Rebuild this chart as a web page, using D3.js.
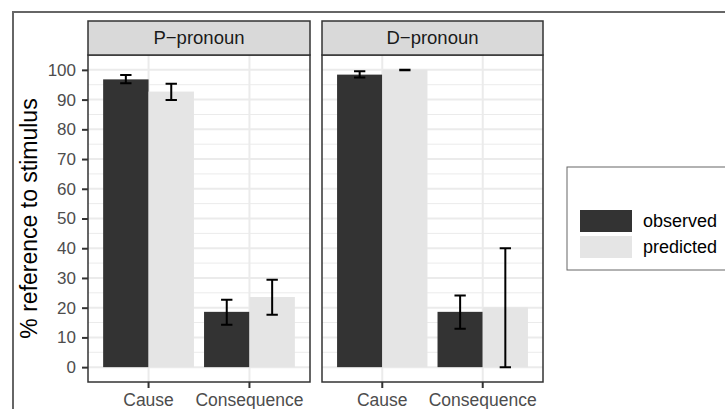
<!DOCTYPE html>
<html><head><meta charset="utf-8">
<script src="https://cdn.jsdelivr.net/npm/d3@7"></script>
<style>body{margin:0;background:#fff}svg{display:block}text{font-family:"Liberation Sans",Arial,sans-serif}</style>
</head><body>
<svg id="c" width="725" height="409"></svg>
<script>
const panels = ["P\u2212pronoun", "D\u2212pronoun"];
const categories = ["Cause", "Consequence"];
const series = ["observed", "predicted"];
const yTicks = [0,10,20,30,40,50,60,70,80,90,100];
// values[category] = [observed, predicted]
const meanP = [[96.8, 92.7], [18.6, 23.6]];
const lowP  = [[95.5, 89.9], [14.3, 17.6]];
const highP = [[98.3, 95.3], [22.7, 29.4]];
const meanD = [[98.4, 100.0], [18.6, 20.1]];
const lowD  = [[97.4, 99.9], [12.9, 0.0]];
const highD = [[99.5, 100.0], [24.1, 40.0]];
const colors = ["#333333", "#E5E5E5"];

(function(){
const svg = d3.select("#c");
svg.append("path").attr("d","M13,409V12H725").attr("fill","none").attr("stroke","#666").attr("stroke-width",2);

const pTop = 55, pBottom = 382, stripTop = 21;
const panelX = [[88,310],[322,543]];
const y = d3.scaleLinear().domain([-5,105]).range([pBottom, pTop]);
const data = [[meanP, lowP, highP],[meanD, lowD, highD]];
const FF = "'Liberation Sans',Arial,sans-serif";

panels.forEach((pn, pi) => {
  const [x0, x1] = panelX[pi];
  const x = d3.scaleBand().domain(categories).range([x0, x1]).paddingInner(0).paddingOuter(0.1);
  const xs = d3.scaleBand().domain(series).range([x.bandwidth()*0.05, x.bandwidth()*0.95]);
  const g = svg.append("g");
  g.append("rect").attr("x",x0).attr("y",pTop).attr("width",x1-x0).attr("height",pBottom-pTop).attr("fill","#fff");
  const minors = d3.range(5, 100, 10);
  g.selectAll(".mn").data(minors).join("line").attr("x1",x0).attr("x2",x1)
    .attr("y1",d=>y(d)).attr("y2",d=>y(d)).attr("stroke","#EBEBEB").attr("stroke-width",1);
  g.selectAll(".mj").data(yTicks).join("line").attr("x1",x0).attr("x2",x1)
    .attr("y1",d=>y(d)).attr("y2",d=>y(d)).attr("stroke","#EBEBEB").attr("stroke-width",2);
  g.selectAll(".vx").data(categories).join("line").attr("y1",pTop).attr("y2",pBottom)
    .attr("x1",d=>x(d)+x.bandwidth()/2).attr("x2",d=>x(d)+x.bandwidth()/2).attr("stroke","#EBEBEB").attr("stroke-width",2);
  const [mean, low, high] = data[pi];
  categories.forEach((c, ci) => {
    series.forEach((s, si) => {
      const bx = x(c) + xs(s);
      const v = mean[ci][si];
      g.append("rect").attr("x", bx).attr("width", xs.bandwidth())
        .attr("y", y(v)).attr("height", y(0)-y(v)).attr("fill", colors[si]);
    });
  });
  categories.forEach((c, ci) => {
    series.forEach((s, si) => {
      const cx = x(c) + xs(s) + xs.bandwidth()/2;
      const hw = xs.bandwidth()*0.125;
      const lo = low[ci][si], hi = high[ci][si];
      const path = `M${cx-hw},${y(hi)}H${cx+hw}M${cx},${y(hi)}V${y(lo)}M${cx-hw},${y(lo)}H${cx+hw}`;
      g.append("path").attr("d", path).attr("fill","none").attr("stroke","#000").attr("stroke-width",2);
    });
  });
  g.append("rect").attr("x",x0).attr("y",pTop).attr("width",x1-x0).attr("height",pBottom-pTop)
    .attr("fill","none").attr("stroke","#333").attr("stroke-width",1.5);
  g.append("rect").attr("x",x0).attr("y",stripTop).attr("width",x1-x0).attr("height",pTop-stripTop)
    .attr("fill","#D9D9D9").attr("stroke","#333").attr("stroke-width",1.5);
  g.append("text").attr("x",(x0+x1)/2).attr("y",(stripTop+pTop)/2).attr("dy","0.35em")
    .attr("text-anchor","middle").attr("font-size",18.5).attr("fill","#1A1A1A").text(pn);
  const xa = g.append("g").attr("transform",`translate(0,${pBottom})`)
    .call(d3.axisBottom(x).tickSize(6).tickSizeOuter(0).tickPadding(6));
  xa.select(".domain").remove();
  xa.selectAll("line").attr("stroke","#333").attr("stroke-width",2);
  xa.selectAll("text").attr("font-size",17.5).attr("fill","#4D4D4D").attr("font-family",FF);
});

const ya = svg.append("g").attr("transform",`translate(${panelX[0][0]},0)`)
  .call(d3.axisLeft(y).tickValues(yTicks).tickSize(6).tickPadding(6));
ya.select(".domain").remove();
ya.selectAll("line").attr("stroke","#333").attr("stroke-width",2);
ya.selectAll("text").attr("font-size",17).attr("fill","#4D4D4D").attr("font-family",FF);

svg.append("text").attr("transform",`translate(37,${(pTop+pBottom)/2}) rotate(-90)`)
  .attr("text-anchor","middle").attr("font-size",23).attr("fill","#000").text("% reference to stimulus");

const lg = svg.append("g");
lg.append("rect").attr("x",567).attr("y",167).attr("width",170).attr("height",103)
  .attr("fill","#fff").attr("stroke","#666").attr("stroke-width",1);
series.forEach((s, si) => {
  lg.append("rect").attr("x",580).attr("y",210+si*26).attr("width",52).attr("height",22).attr("fill",colors[si]);
  lg.append("text").attr("x",643).attr("y",221+si*26).attr("dy","0.35em").attr("font-size",18).attr("fill","#000").text(s);
});
})();
</script>
</body></html>
